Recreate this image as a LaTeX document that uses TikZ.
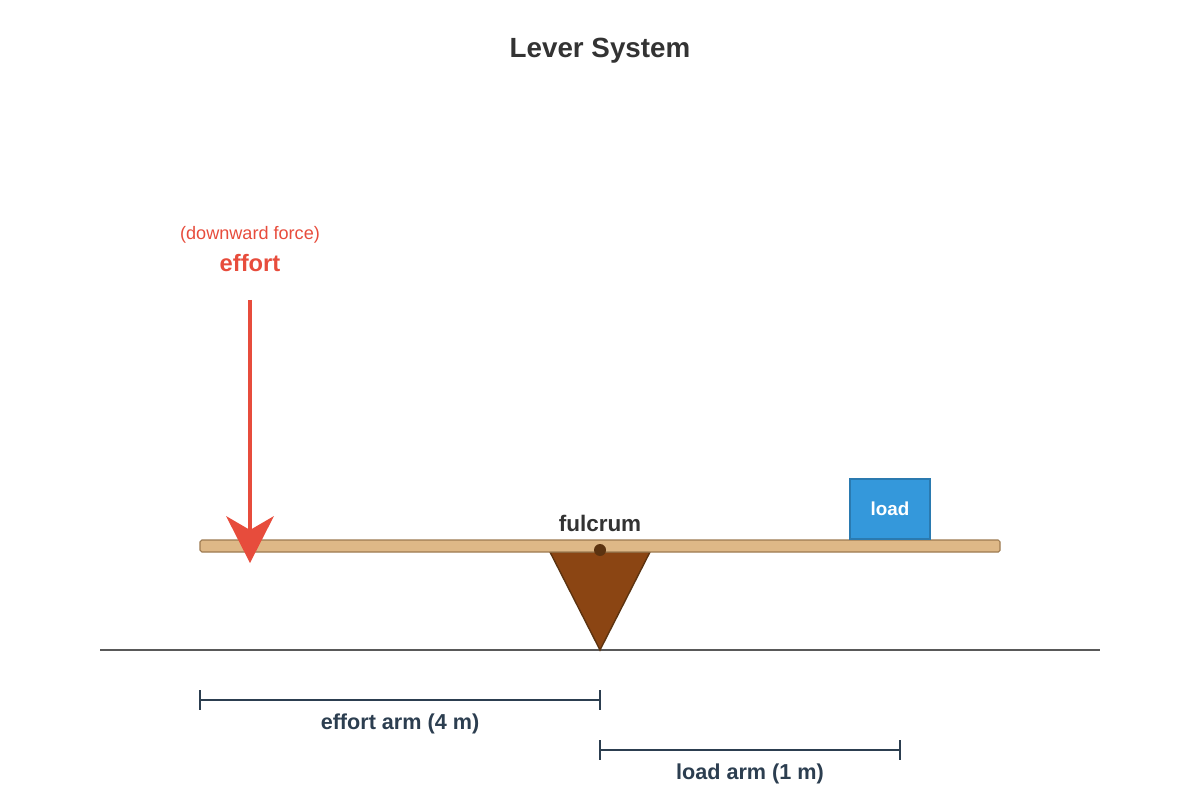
\documentclass[tikz,border=0pt]{standalone}
\usepackage{fontspec}
\setmainfont{Liberation Sans}
\begin{document}
\begin{tikzpicture}[x=0.02cm,y=-0.02cm,
  lbl/.style={font=\bfseries\fontsize{12.3}{14}\selectfont,text=dark},
  dim/.style={draw=dark,line width=1.2pt}]
\definecolor{dark}{HTML}{2C3E50}
\definecolor{txt}{HTML}{333333}
\definecolor{red1}{HTML}{E74C3C}
\definecolor{beam}{HTML}{DEB887}
\definecolor{beamd}{HTML}{9C7A50}
\definecolor{brown1}{HTML}{8B4513}
\definecolor{brown2}{HTML}{5C3310}
\definecolor{blue1}{HTML}{3498DB}
\definecolor{blue2}{HTML}{2A7AB0}
\useasboundingbox (0,0) rectangle (1200,800);
\node[font=\bfseries\fontsize{15.8}{18}\selectfont,text=txt] (title) at (600,51) {Lever System};
% ground
\coordinate (g1) at (100,650); \coordinate (g2) at (1100,650);
\draw[draw=black!65,line width=0.9pt] (g1) -- (g2);
% fulcrum
\draw[fill=brown1,draw=brown2,line width=0.8pt] (550,552) -- (650,552) -- (600,650) -- cycle;
% beam
\draw[fill=beam,draw=beamd,line width=0.6pt,rounded corners=1pt] (200,540) rectangle (1000,552);
\fill[brown2] (600,550) circle (6);
\node[font=\bfseries\fontsize{12.8}{15}\selectfont,text=txt] (ful) at (600,523) {fulcrum};
% load
\node[draw=blue2,fill=blue1,line width=0.8pt,minimum width=1.6cm,minimum height=1.2cm,inner sep=0pt,
  text=white,font=\bfseries\fontsize{10.7}{12}\selectfont] (load) at (890,509) {load};
% effort
\node[text=red1,font=\fontsize{10.3}{12}\selectfont] (dfor) at (250,235) {(downward force)};
\node[text=red1,font=\bfseries\fontsize{13.5}{16}\selectfont] (eff) at (250,263) {effort};
\coordinate (a1) at (250,300); \coordinate (a2) at (250,532);
\draw[red1,line width=2.2pt] (a1) -- (a2);
\fill[red1] (226,516) -- (250,530) -- (274,516) -- (250,563) -- cycle;
% dimension lines
\coordinate (e1) at (200,700); \coordinate (e2) at (600,700);
\draw[dim] (e1) -- (e2);
\draw[dim] (200,690) -- (200,710); \draw[dim] (600,690) -- (600,710);
\node[lbl] (el) at (400,724) {effort arm (4 m)};
\coordinate (l1) at (600,750); \coordinate (l2) at (900,750);
\draw[dim] (l1) -- (l2);
\draw[dim] (600,740) -- (600,760); \draw[dim] (900,740) -- (900,760);
\node[lbl] (ll) at (750,774) {load arm (1 m)};
\end{tikzpicture}
\end{document}
